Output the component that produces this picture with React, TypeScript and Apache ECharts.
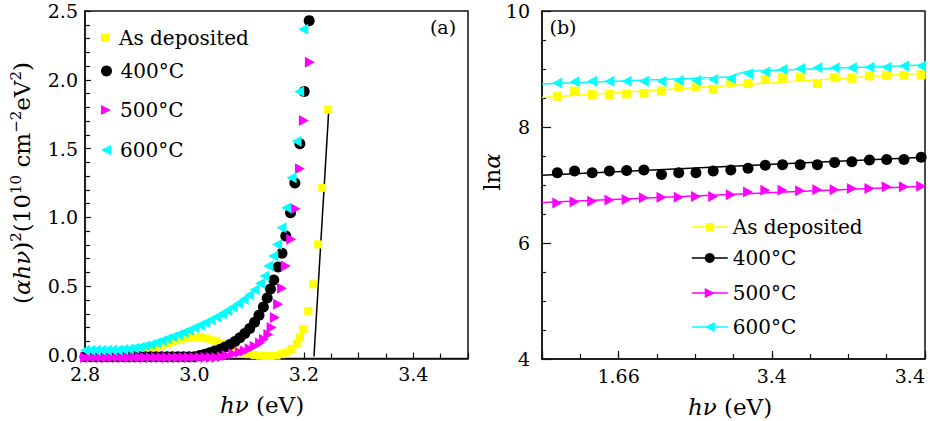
import React, { useEffect, useRef } from 'react';
import * as echarts from 'echarts';

const FONT = 'DejaVu Serif';
const YELLOW = '#ffff00';
const BLACK = '#000000';
const MAGENTA = '#ff00ff';
const CYAN = '#00ffff';
const SQUARE = 'path://M0,0 L10,0 L10,10 L0,10 Z';
const TRI_RIGHT = 'path://M0,0 L10,5 L0,10 Z';
const TRI_LEFT = 'path://M10,0 L0,5 L10,10 Z';

// ---------- panel (a): (alpha h nu)^2 vs h nu ----------
const seriesNames = ['As deposited', '400°C', '500°C', '600°C'];

const aAsDeposited: [number, number][] = [
  [2.80, 0], [2.81, 0], [2.82, 0], [2.83, 0], [2.84, 0], [2.85, 0], [2.86, 0.002], [2.87, 0.004],
  [2.88, 0.008], [2.89, 0.013], [2.90, 0.020], [2.91, 0.030], [2.92, 0.042], [2.93, 0.056],
  [2.94, 0.070], [2.95, 0.085], [2.96, 0.098], [2.97, 0.110], [2.98, 0.120], [2.99, 0.127],
  [3.00, 0.130], [3.01, 0.128], [3.02, 0.122], [3.03, 0.112], [3.04, 0.098], [3.05, 0.082],
  [3.06, 0.064], [3.07, 0.046], [3.08, 0.030], [3.09, 0.017], [3.10, 0.007], [3.11, 0.000],
  [3.12, -0.005], [3.13, -0.007], [3.14, -0.007], [3.15, -0.004], [3.159, 0.007], [3.168, 0.019],
  [3.177, 0.043], [3.187, 0.080], [3.193, 0.128], [3.199, 0.188], [3.208, 0.321], [3.217, 0.514],
  [3.226, 0.804], [3.2335, 1.215], [3.2444, 1.783],
];

const a400: [number, number][] = [
  [2.80, -0.012], [2.81, -0.012], [2.82, -0.012], [2.83, -0.012], [2.84, -0.012], [2.85, -0.012],
  [2.86, -0.012], [2.87, -0.012], [2.88, -0.012], [2.89, -0.012], [2.90, -0.012], [2.91, -0.012],
  [2.92, -0.012], [2.93, -0.012], [2.94, -0.012], [2.95, -0.012], [2.96, -0.012], [2.97, -0.012],
  [2.98, -0.012], [2.99, -0.012], [3.00, -0.012], [3.01, -0.004], [3.019, 0.006], [3.028, 0.017],
  [3.037, 0.029], [3.047, 0.043], [3.056, 0.058], [3.065, 0.077], [3.074, 0.099], [3.083, 0.125],
  [3.092, 0.156], [3.101, 0.193], [3.110, 0.238], [3.118, 0.290], [3.126, 0.350], [3.133, 0.415],
  [3.139, 0.480], [3.145, 0.546], [3.153, 0.640], [3.160, 0.740], [3.167, 0.865], [3.1757, 1.034],
  [3.1836, 1.251], [3.1927, 1.536], [3.2006, 1.915], [3.2097, 2.430],
];

const a500: [number, number][] = [
  [2.80, -0.018], [2.81, -0.018], [2.82, -0.018], [2.83, -0.018], [2.84, -0.018], [2.85, -0.018],
  [2.86, -0.018], [2.87, -0.018], [2.88, -0.018], [2.89, -0.018], [2.90, -0.018], [2.91, -0.018],
  [2.92, -0.018], [2.93, -0.018], [2.94, -0.018], [2.95, -0.018], [2.96, -0.018], [2.97, -0.018],
  [2.98, -0.018], [2.99, -0.018], [3.00, -0.018], [3.01, -0.018], [3.02, -0.018], [3.03, -0.018],
  [3.04, -0.018], [3.05, -0.012], [3.059, -0.004], [3.071, 0.010], [3.083, 0.020], [3.092, 0.030],
  [3.101, 0.045], [3.110, 0.064], [3.120, 0.088], [3.127, 0.114], [3.135, 0.150], [3.141, 0.200],
  [3.147, 0.273], [3.153, 0.370], [3.160, 0.486], [3.167, 0.647], [3.177, 0.841], [3.185, 1.063],
  [3.193, 1.353], [3.200, 1.705], [3.211, 2.128],
];

const a600: [number, number][] = [
  [2.80, 0.035], [2.81, 0.035], [2.82, 0.035], [2.83, 0.035], [2.84, 0.035], [2.85, 0.036],
  [2.86, 0.037], [2.87, 0.040], [2.88, 0.044], [2.89, 0.050], [2.90, 0.057], [2.91, 0.066],
  [2.92, 0.077], [2.93, 0.090], [2.94, 0.104], [2.95, 0.118], [2.96, 0.133], [2.97, 0.148],
  [2.98, 0.164], [2.99, 0.181], [3.00, 0.198], [3.01, 0.216], [3.02, 0.235], [3.03, 0.255],
  [3.04, 0.276], [3.05, 0.298], [3.06, 0.322], [3.07, 0.347], [3.08, 0.374], [3.09, 0.404],
  [3.10, 0.437], [3.11, 0.475], [3.12, 0.520], [3.128, 0.575], [3.135, 0.647], [3.144, 0.720],
  [3.151, 0.804], [3.159, 0.925], [3.168, 1.070], [3.1775, 1.288], [3.1867, 1.553],
  [3.1915, 1.915], [3.1988, 2.367],
];

const aTaucFit: [number, number][] = [[3.2185, -0.01], [3.2455, 1.78]];

// ---------- panel (b): ln(alpha) vs h nu ----------
const bX = [0.40, 0.85, 1.31, 1.76, 2.21, 2.66, 3.12, 3.57, 4.02, 4.47, 4.93, 5.38, 5.83, 6.28, 6.74, 7.19, 7.64, 8.09, 8.55, 9.00, 9.45, 9.90];
const bAsDeposited = [8.53, 8.62, 8.56, 8.56, 8.57, 8.58, 8.62, 8.69, 8.69, 8.65, 8.77, 8.75, 8.82, 8.85, 8.86, 8.75, 8.85, 8.84, 8.88, 8.89, 8.89, 8.90];
const b400 = [7.21, 7.24, 7.21, 7.24, 7.25, 7.26, 7.18, 7.21, 7.21, 7.24, 7.26, 7.29, 7.34, 7.35, 7.35, 7.35, 7.39, 7.40, 7.43, 7.44, 7.44, 7.48];
const b500 = [6.69, 6.71, 6.72, 6.74, 6.75, 6.78, 6.79, 6.79, 6.80, 6.80, 6.83, 6.88, 6.91, 6.91, 6.90, 6.92, 6.92, 6.94, 6.94, 6.97, 6.97, 6.98];
const b600 = [8.76, 8.78, 8.79, 8.79, 8.79, 8.79, 8.79, 8.80, 8.80, 8.82, 8.83, 8.92, 8.95, 8.99, 9.01, 9.02, 9.02, 9.02, 9.03, 9.03, 9.05, 9.05];
const bFitAsDeposited: [number, number][] = [[0, 8.51], [10, 8.93]];
const bFit400: [number, number][] = [[0, 7.17], [10, 7.48]];
const bFit500: [number, number][] = [[0, 6.70], [10, 6.98]];
const bFit600: [number, number][] = [[0, 8.74], [4.85, 8.86], [5.35, 8.96], [10, 9.07]];
const bTickPositions = [2, 6, 10];
const bTickLabels = ['1.66', '3.4', '3.4'];

const B_SUFFIX = ' (b)';
const pair = (ys: number[]) => ys.map((y, i) => [bX[i], y]);

const labelStyle = { fontFamily: FONT, fontSize: 19, color: '#000' };

function buildOption(): any {
  const leftLegendTops = [28, 61, 100, 140];
  const rightLegendTops = [217, 248, 283, 317];
  const leftIconH = [8, 11, 10, 10];
  const rightIconH = [10, 12.5, 12.5, 12.5];

  const legends: any[] = [];
  seriesNames.forEach((n, i) => {
    legends.push({
      data: [n], left: 101, top: leftLegendTops[i], padding: 0, itemWidth: 18, itemHeight: leftIconH[i],
      symbolKeepAspect: true, selectedMode: false,
      textStyle: { fontFamily: FONT, fontSize: 20, color: '#000' },
    });
    legends.push({
      data: [n + B_SUFFIX], left: 691, top: rightLegendTops[i], padding: 0, itemWidth: 36, itemHeight: rightIconH[i],
      selectedMode: false, formatter: (name: string) => name.replace(B_SUFFIX, ''),
      lineStyle: { opacity: 1, width: 1.5 },
      textStyle: { fontFamily: FONT, fontSize: 20, color: '#000' },
    });
  });

  const colors = [YELLOW, BLACK, MAGENTA, CYAN];
  const symbols = [SQUARE, 'circle', TRI_RIGHT, TRI_LEFT];
  const aSizes: any[] = [8, 11, [10, 11], [10, 11]];
  const bSizes: any[] = [9, 11, [10, 11], [10, 11]];
  const aData = [aAsDeposited, a400, a500, a600];
  const bData = [bAsDeposited, b400, b500, b600];
  const bFits = [bFitAsDeposited, bFit400, bFit500, bFit600];

  const series: any[] = [
    {
      type: 'line', xAxisIndex: 0, yAxisIndex: 0, data: aTaucFit, symbol: 'none',
      lineStyle: { color: '#000', width: 1.5 }, z: 1, silent: true,
    },
  ];
  seriesNames.forEach((n, i) => {
    series.push({
      name: n, type: 'scatter', xAxisIndex: 0, yAxisIndex: 0, data: aData[i],
      symbol: symbols[i], symbolSize: aSizes[i], symbolKeepAspect: true,
      itemStyle: { color: colors[i], opacity: 1 }, z: 2 + i,
    });
  });
  seriesNames.forEach((n, i) => {
    series.push({
      type: 'line', xAxisIndex: 1, yAxisIndex: 1, data: bFits[i], symbol: 'none',
      lineStyle: { color: colors[i], width: 1.5 }, z: 2, silent: true,
    });
  });
  seriesNames.forEach((n, i) => {
    series.push({
      name: n + B_SUFFIX, type: 'line', xAxisIndex: 1, yAxisIndex: 1, data: pair(bData[i]),
      symbol: symbols[i], symbolSize: bSizes[i], showSymbol: true,
      color: colors[i], itemStyle: { color: colors[i] },
      lineStyle: { color: colors[i], opacity: 0, width: 1.5 }, z: 3 + i,
    });
  });

  const text = (x: number, y: number, t: string, size: number, rich?: any, rotation = 0) => ({
    type: 'text', x, y, rotation, z: 100,
    style: {
      text: t, fontFamily: FONT, fontSize: size, fill: '#000',
      align: 'center', verticalAlign: 'middle', textAlign: 'center', textVerticalAlign: 'middle', rich,
    },
  });
  const richMain = {
    n: { fontFamily: FONT, fontSize: 23, lineHeight: 28, fill: '#000', color: '#000' },
    i: { fontFamily: FONT, fontSize: 23, fontStyle: 'italic', lineHeight: 28, fill: '#000', color: '#000' },
    s: { fontFamily: FONT, fontSize: 15, lineHeight: 15, verticalAlign: 'top', fill: '#000', color: '#000' },
  };

  const axisLine = { onZero: false, lineStyle: { color: '#111', width: 1.5 } };

  return {
    animation: false,
    backgroundColor: '#fff',
    grid: [
      { left: 85, top: 11, width: 383, height: 347.5, show: true, borderColor: '#111', borderWidth: 1.5, backgroundColor: 'transparent' },
      { left: 542, top: 11, width: 383, height: 348, show: true, borderColor: '#111', borderWidth: 1.5, backgroundColor: 'transparent' },
    ],
    xAxis: [
      {
        gridIndex: 0, type: 'value', min: 2.8, max: 3.5, interval: 0.1,
        axisLine,
        axisTick: { inside: true, length: 6, lineStyle: { color: '#111', width: 1.2 } },
        minorTick: { show: true, splitNumber: 2, length: 5, lineStyle: { color: '#111', width: 1.2 } },
        splitLine: { show: false },
        axisLabel: {
          ...labelStyle, margin: 6,
          formatter: (v: number) => (Math.round(v * 10) % 2 === 0 && v < 3.45 ? v.toFixed(1) : ''),
        },
      },
      {
        gridIndex: 1, type: 'value', min: 0, max: 10, interval: 1,
        axisLine,
        axisTick: { inside: true, length: 5, lineStyle: { color: '#111', width: 1.2 } },
        splitLine: { show: false },
        axisLabel: {
          ...labelStyle, margin: 7, alignMaxLabel: 'right',
          formatter: (v: number) => {
            const k = bTickPositions.indexOf(Math.round(v));
            return k >= 0 ? bTickLabels[k] : '';
          },
        },
      },
      {
        gridIndex: 1, type: 'value', min: 0, max: 10, interval: 4, inverse: true,
        position: 'top', offset: -348,
        axisLine: { show: false, onZero: false },
        axisTick: { show: true, inside: false, length: 8, lineStyle: { color: '#111', width: 1.2 } },
        axisLabel: { show: false },
        splitLine: { show: false },
      },
    ],
    yAxis: [
      {
        gridIndex: 0, type: 'value', min: -0.025, max: 2.5, splitNumber: 5,
        axisLine,
        axisTick: { inside: true, length: 6, lineStyle: { color: '#111', width: 1.2 } },
        minorTick: { show: true, splitNumber: 5, length: 5, lineStyle: { color: '#111', width: 1.2 } },
        splitLine: { show: false },
        axisLabel: { ...labelStyle, margin: 7, formatter: (v: number) => (v < -0.001 ? '' : v.toFixed(1)) },
      },
      {
        gridIndex: 1, type: 'value', min: 4, max: 10, interval: 2,
        axisLine,
        axisTick: { inside: true, length: 9, lineStyle: { color: '#111', width: 1.2 } },
        minorTick: { show: true, splitNumber: 4, length: 4, lineStyle: { color: '#111', width: 1.2 } },
        splitLine: { show: false },
        axisLabel: { ...labelStyle, margin: 12 },
      },
    ],
    legend: legends,
    series,
    graphic: [
      text(443, 27, '(a)', 19),
      text(563, 27, '(b)', 19),
      text(22, 183, '{n|(}{i|αhν}{n|)}{s|2}{n|(10}{s|10}{n| cm}{s|−2}{n|eV}{s|2}{n|)}', 23, richMain, Math.PI / 2),
      text(262, 405, '{i|hν}{n| (eV)}', 22, richMain),
      text(492, 172, '{n|ln}{i|α}', 23, richMain, Math.PI / 2),
      text(730, 407, '{i|hν}{n| (eV)}', 22, richMain),
    ],
  };
}

export default function App() {
  const ref = useRef<HTMLDivElement>(null);
  useEffect(() => {
    if (!ref.current) return;
    const chart = echarts.init(ref.current, null, { renderer: 'svg' });
    chart.setOption(buildOption());
    return () => chart.dispose();
  }, []);
  return (
    <div
      ref={ref}
      style={{ position: 'absolute', left: 0, top: 0, width: 930, height: 421, background: '#fff' }}
    />
  );
}
